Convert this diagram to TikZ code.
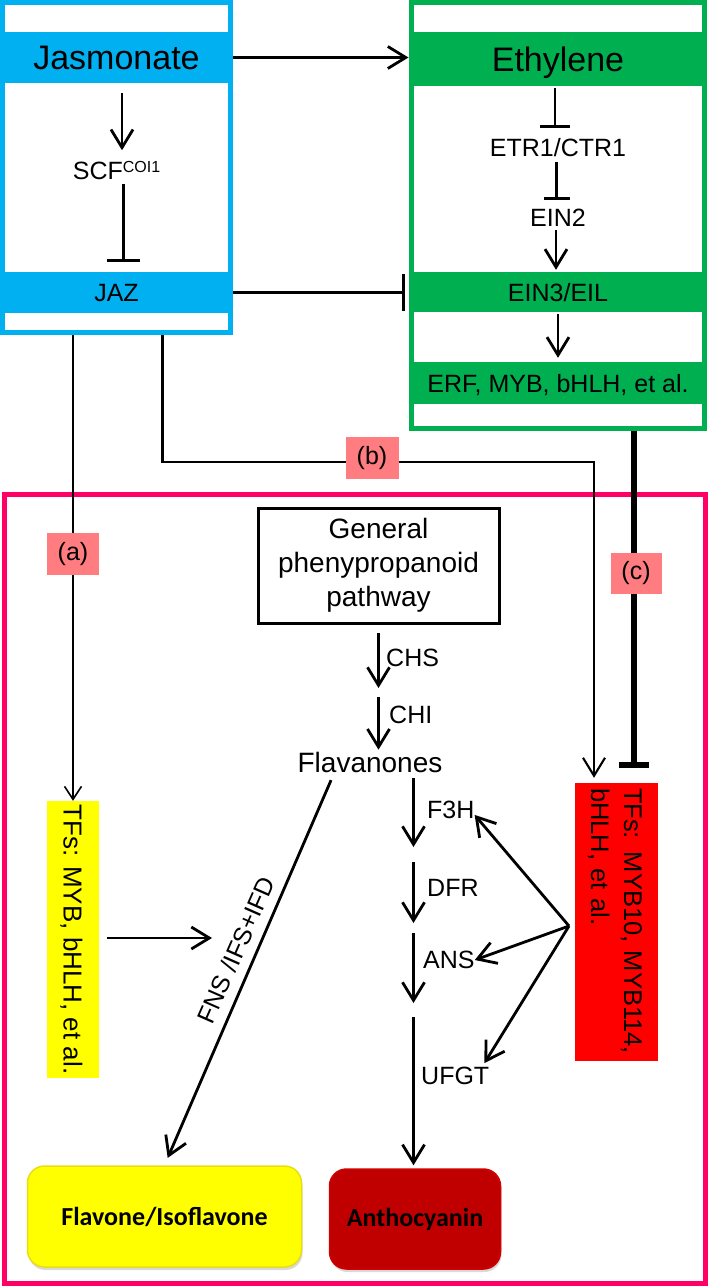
\documentclass[tikz,border=0pt]{standalone}
\usepackage{fontspec}
\setmainfont{Liberation Sans}
\newfontfamily\carlito{Carlito}
\usepackage{tikz}
\usetikzlibrary{shapes,arrows,arrows.meta,calc,positioning,shadows}

\definecolor{jasblue}{HTML}{00B0F0}
\definecolor{ethgreen}{HTML}{00B050}
\definecolor{pathpink}{HTML}{FF0066}
\definecolor{tagred}{HTML}{FF7C80}
\definecolor{tfyellow}{HTML}{FFFF00}
\definecolor{tfred}{HTML}{FF0000}
\definecolor{anthored}{HTML}{C00000}

\begin{document}
\begin{tikzpicture}[x=1pt,y=-1pt,on grid,
    panel/.style={draw=#1,line width=5pt,inner sep=0pt},
    band/.style={fill=#1,inner sep=0pt,minimum height=41pt,text depth=0pt},
    bigtxt/.style={font=\fontsize{34}{40}\selectfont,inner sep=0pt,text depth=0pt},
    midtxt/.style={font=\fontsize{25}{30}\selectfont,inner sep=0pt,text depth=0pt},
    enz/.style={midtxt,anchor=west},
    act/.style={-{Straight Barb[length=18pt,width=22pt]},line width=2.8pt},
    thinact/.style={-{Straight Barb[length=13pt,width=17pt]},line width=1.6pt},
    inh/.style={-{Bar[width=#1]},line width=2.8pt},
    tag/.style={fill=tagred,inner sep=0pt,minimum width=52pt,minimum height=42pt,
      font=\fontsize{25}{30}\selectfont},
    product/.style={rounded corners=17pt,inner sep=0pt,line width=1.5pt,
      font=\carlito\bfseries\fontsize{26}{30}\selectfont,
      drop shadow={opacity=0.3,shadow xshift=1pt,shadow yshift=-3pt}}]

  \useasboundingbox (0,0) rectangle (709,1287);

  % jasmonate signalling
  \node[panel=jasblue,minimum width=227.5pt,minimum height=330pt] (jasframe) at (116.25,167.5) {};
  \node[band=jasblue,bigtxt,minimum width=223pt,minimum height=51pt] (jas) at (116.5,57.5) {Jasmonate};
  \node[midtxt] (scf) [below=112.5pt of jas] {SCF\raisebox{7pt}{\fontsize{16}{16}\selectfont COI1}};
  \node[band=jasblue,midtxt,minimum width=223pt] (jaz) [below=122.5pt of scf] {JAZ};

  % ethylene signalling
  \node[panel=ethgreen,minimum width=293.5pt,minimum height=426pt] (ethframe) at (557.75,215.5) {};
  \node[band=ethgreen,bigtxt,minimum width=288pt,minimum height=54pt] (eth) at (558,59) {Ethylene};
  \node[midtxt] (etr) [below=88pt of eth] {ETR1/CTR1};
  \node[midtxt] (ein2) [below=71pt of etr] {EIN2};
  \node[band=ethgreen,midtxt,minimum width=288pt,minimum height=40pt] (ein3) [below=74pt of ein2] {EIN3/EIL};
  \node[band=ethgreen,midtxt,minimum width=288pt,minimum height=42pt] (erf) [below=91pt of ein3] {ERF, MYB, bHLH, et al.};

  % flavonoid pathway
  \node[panel=pathpink,minimum width=701pt,minimum height=789pt] (pathframe) at (354.5,888.5) {};
  \node[draw,line width=3pt,minimum width=241pt,minimum height=115pt,align=center,
        font=\fontsize{28}{34}\selectfont] (gen) at (378.5,565.5) {General\\phenypropanoid\\pathway};
  \node[font=\fontsize{28}{34}\selectfont,inner sep=0pt,text depth=0pt] (flav) at (370,762) {Flavanones};
  \node[enz] (chs) at (386,658) {CHS};
  \node[enz] (chi) at (389,715) {CHI};
  \node[enz] (f3h) at (427,810) {F3H};
  \node[enz] (dfr) at (427,888) {DFR};
  \node[enz] (ans) at (423,960) {ANS};
  \node[enz] (ufgt) at (421,1076) {UFGT};
  % rotated boxes: west is the top edge, north the right edge
  \node[fill=tfyellow,rotate=-90,minimum width=277pt,minimum height=52pt,inner sep=0pt,text depth=0pt,
        font=\fontsize{26}{30}\selectfont] (tfy) at (73,939.5) {TFs: MYB, bHLH, et al.};
  \node[fill=tfred,rotate=-90,minimum width=278pt,minimum height=83pt,inner sep=5pt,text width=268pt,
        text depth=33pt,align=left,font=\fontsize{25.5}{33}\selectfont] (tfr) at (616.5,922) {TFs: MYB10, MYB114,\\bHLH, et al.};
  \node[midtxt,rotate=66.2] (fns) at (236,950) {FNS /IFS+IFD};
  \node[product,fill=tfyellow,draw=yellow!90!black,minimum width=274pt,minimum height=101pt] (flavone) at (164.5,1216.5) {Flavone/Isoflavone};
  \node[product,fill=anthored,draw=anthored!75!red,minimum width=171pt,minimum height=100pt] (antho) at (415,1219) {Anthocyanin};

  % signalling connectors
  \draw[act,shorten <=10pt,shorten >=10.5pt] ([xshift=5.5pt]jas.south) -- ([xshift=5.5pt]scf.north);
  \draw[inh=33pt,shorten <=4.5pt,shorten >=10pt] ([xshift=7pt]scf.south) -- ([xshift=7pt]jaz.north);
  \draw[inh=30pt,shorten <=2pt,shorten >=10pt] ([xshift=-3pt]eth.south) -- ([xshift=-3pt]etr.north);
  \draw[inh=26pt,shorten <=6pt,shorten >=9pt] ([xshift=-1.5pt]etr.south) -- ([xshift=-1.5pt]ein2.north);
  \draw[act,shorten <=3pt,shorten >=2pt] ([xshift=-2pt]ein2.south) -- ([xshift=-2pt]ein3.north);
  \draw[act,shorten <=2pt,shorten >=4pt] (ein3.south) -- (erf.north);
  \draw[act] (jas.east -| jasframe.east) -- (jas.east -| ethframe.west);
  \draw[inh=37pt,shorten >=3.5pt] (jaz.east -| jasframe.east) -- (jaz.east -| ethframe.west);

  % links into the pathway
  \coordinate (bturn) at (162.5,462);
  \coordinate (bdrop) at (594,462);
  \coordinate (cdrop) at (633.5,600);
  \draw[thinact] (tfy.west |- jasframe.south) -- (tfy.west);
  \draw[act,line width=2.1pt,shorten >=5pt] (bturn |- jasframe.south) -- (bturn) -- (bdrop) -- (bdrop |- tfr.west);
  \draw[inh=30pt,line width=6pt,shorten >=15pt] (cdrop |- ethframe.south) -- (cdrop |- tfr.west);

  % pathway steps
  \coordinate (g0) at (378.5,692.5);
  \coordinate (g1) at (413.5,854.5);
  \coordinate (g2) at (413.5,928);
  \coordinate (g3) at (413.5,1010);
  \draw[act,shorten <=8.5pt,shorten >=4.5pt] (gen.south) -- (g0);
  \draw[act,shorten <=4.5pt,shorten >=2pt] (g0) -- (g0 |- flav.north);
  \draw[act,shorten <=6pt,shorten >=7.5pt] (flav.south -| g1) -- (g1);
  \draw[act,shorten <=7.5pt,shorten >=5pt] (g1) -- (g2);
  \draw[act,shorten <=5pt,shorten >=7pt] (g2) -- (g3);
  \draw[act,shorten <=7pt,shorten >=3pt] (g3) -- (g3 |- antho.north);
  \draw[act,shorten <=8.5pt,shorten >=8pt] ([xshift=37pt]flav.south west) -- (flavone.north);

  % regulation by the transcription factors
  \coordinate (hub) at (569,926);
  \coordinate (fnsin) at (212,938);
  \draw[act] (hub) -- ([yshift=4pt]f3h.south east);
  \draw[act] (hub) -- (ans.east);
  \draw[act] (hub) -- ([xshift=-5pt,yshift=4pt]ufgt.north east);
  \draw[act,shorten <=8pt] (tfy.north |- fnsin) -- (fnsin);

  % route labels
  \node[tag] (taga) at (73,554) {(a)};
  \node[tag,minimum width=53pt] (tagb) at (372,458) {(b)};
  \node[tag,minimum width=51pt,minimum height=41pt] (tagc) at (636,573) {(c)};
\end{tikzpicture}
\end{document}
